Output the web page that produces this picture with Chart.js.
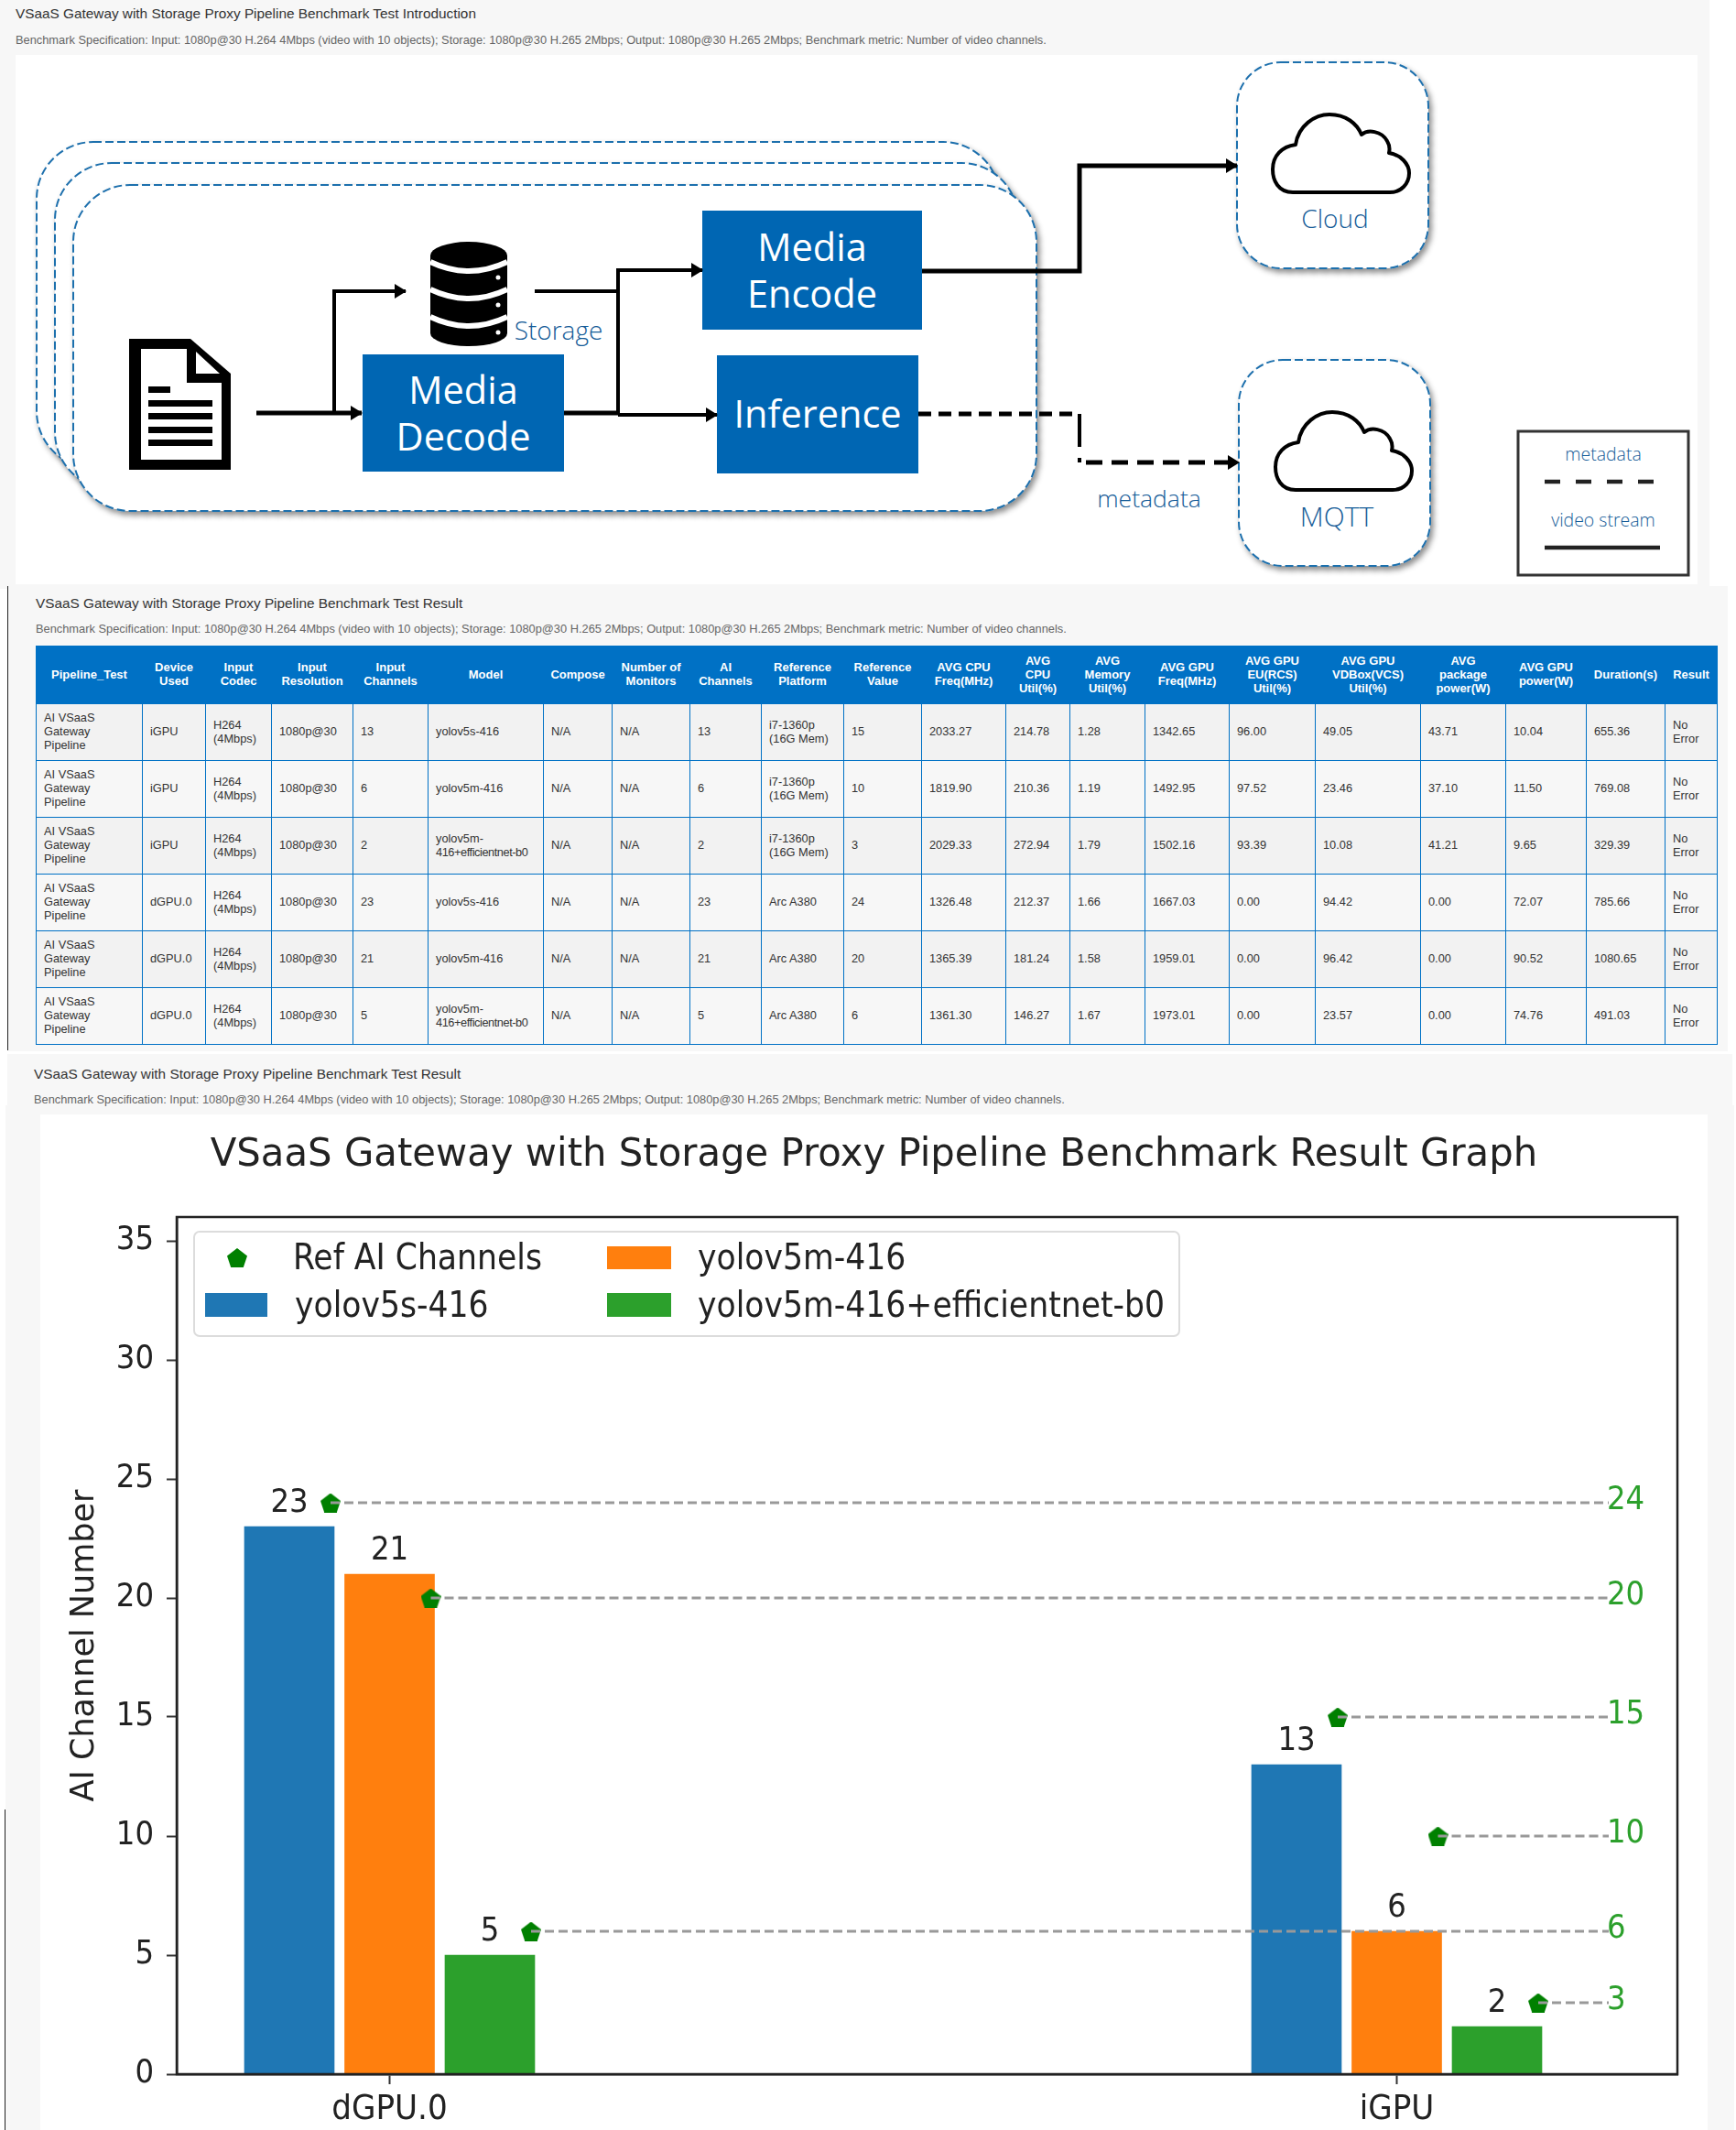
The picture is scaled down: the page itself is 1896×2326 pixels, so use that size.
<!DOCTYPE html>
<html><head><meta charset="utf-8">
<script src="https://cdn.jsdelivr.net/npm/chart.js@4/dist/chart.umd.min.js"></script>
<style>
html,body{margin:0;padding:0;background:#fff;}
body{width:1896px;height:2326px;position:relative;overflow:hidden;font-family:"Liberation Sans",Arial,sans-serif;}
.p{position:absolute;background:#f7f7f7;}
.h{position:absolute;font-size:15.35px;color:#333;white-space:nowrap;line-height:18px;}
.s{position:absolute;font-size:12.83px;color:#666;white-space:nowrap;line-height:16px;}
#tbl{position:absolute;left:39px;top:705px;width:1837px;border-collapse:collapse;table-layout:fixed;font-size:12.8px;line-height:15px;color:#333;}
#tbl th{background:#0071c5;color:#fff;font-weight:bold;font-size:13px;height:63px;padding:0 2px 2px;text-align:center;border:1px solid #0071c5;box-sizing:border-box;}
#tbl td{height:62px;padding:0 0 2px 8px;border:1px solid #0071c5;box-sizing:border-box;text-align:left;}
#tbl td:first-child{padding-right:30px;}
#tbl tr:nth-child(odd) td{background:#f2f2f2;}
#tbl tr:nth-child(even) td{background:#f7f7f7;}
svg text{font-family:"Open Sans",sans-serif;}
</style></head><body>
<div class="p" style="left:0;top:0;width:1867px;height:643px"></div>
<div class="p" style="left:9px;top:640px;width:1878px;height:508px"></div>
<div style="position:absolute;left:8px;top:640px;width:1px;height:507px;background:#222"></div>
<div class="p" style="left:8px;top:1151px;width:1884px;height:60px"></div>
<div class="p" style="left:6px;top:1207px;width:1888px;height:1119px"></div>
<div style="position:absolute;left:5px;top:1976px;width:1px;height:350px;background:#222"></div>

<div class="h" style="left:17px;top:6px">VSaaS Gateway with Storage Proxy Pipeline Benchmark Test Introduction</div>
<div class="s" style="left:17px;top:36px">Benchmark Specification: Input: 1080p@30 H.264 4Mbps (video with 10 objects); Storage: 1080p@30 H.265 2Mbps; Output: 1080p@30 H.265 2Mbps; Benchmark metric: Number of video channels.</div>

<svg style="position:absolute;left:0;top:0" width="1896" height="640" viewBox="0 0 1896 640">
<defs>
<filter id="sh" x="-5%" y="-5%" width="112%" height="112%"><feDropShadow dx="3" dy="4" stdDeviation="3" flood-color="#000" flood-opacity=".45"/></filter>
<marker id="ar" markerUnits="userSpaceOnUse" markerWidth="14" markerHeight="16" refX="13" refY="8" orient="auto"><path d="M1,0 L14,8 L1,16 Z" fill="#000"/></marker>
<path id="cloud" d="M22,85 C6,85 0,72 0,60 C0,45 10,35 25,33 C28,12 46,0 62,0 C80,0 92,10 97,22 C104,16 119,18 125,29 C128,34 128,38 127,42 C140,44 149,54 149,64 C149,76 140,85 128,85 Z" fill="#fff" stroke="#000" stroke-width="4" stroke-linejoin="round"/>
</defs>
<rect x="17" y="60" width="1837" height="578" fill="#fff"/>
<g fill="#fff" stroke="#1f70ad" stroke-width="2" stroke-dasharray="9 4">
<rect x="40" y="155" width="1052" height="356" rx="62" filter="url(#sh)"/>
<rect x="60" y="178" width="1052" height="356" rx="62" filter="url(#sh)"/>
<rect x="80" y="202" width="1052" height="356" rx="62" filter="url(#sh)"/>
<rect x="1351" y="68" width="209" height="225" rx="48" filter="url(#sh)"/>
<rect x="1353" y="393" width="209" height="225" rx="48" filter="url(#sh)"/>
</g>
<use href="#cloud" x="1390" y="125"/><use href="#cloud" x="1393" y="450"/>

<g fill="#0066b3">
<rect x="767" y="230" width="240" height="130"/>
<rect x="396" y="387" width="220" height="128"/>
<rect x="783" y="388" width="220" height="129"/>
</g>
<g fill="#fff" font-size="41.5" text-anchor="middle">
<text x="887" y="285">Media</text><text x="887" y="336">Encode</text>
<text x="506" y="441">Media</text><text x="506" y="492">Decode</text>
<text x="893" y="467">Inference</text>
</g>
<g fill="#155c98" font-weight="300" text-anchor="middle">
<text x="1458" y="249" font-size="28">Cloud</text>
<text x="1460" y="575" font-size="30">MQTT</text>
<text x="1255" y="554" font-size="26.5">metadata</text>
<text x="610" y="371" font-size="28">Storage</text>
</g>

<!-- arrows -->
<g fill="none" stroke="#000" stroke-width="4">
<path d="M280,451 H395" stroke-width="5" marker-end="url(#ar)"/>
<path d="M365,451 V318 H443" marker-end="url(#ar)"/>
<path d="M584,318 H675"/>
<path d="M675,453 V295 H767" marker-end="url(#ar)"/>
<path d="M616,451 H675" stroke-width="5"/>
<path d="M675,453 H783" marker-end="url(#ar)"/>
<path d="M1007,296 H1179 V181 H1351" stroke-width="5" marker-end="url(#ar)"/>
<path d="M1003,452 H1179" stroke-width="5" stroke-dasharray="14 8"/>
<path d="M1179,452 V505" stroke-width="4" stroke-dasharray="36 12"/>
<path d="M1186,505 H1353" stroke-width="5" stroke-dasharray="18 10" marker-end="url(#ar)"/>
</g>

<!-- document icon -->
<path d="M141,370 H208 L252,408 V513 H141 Z" fill="#000"/>
<path d="M154,381 H204 V418 H242 V502 H154 Z" fill="#fff"/>
<path d="M214,384 L240,408 H214 Z" fill="#fff"/>
<g fill="#000">
<rect x="162" y="422" width="24" height="7"/>
<rect x="162" y="437" width="70" height="7"/>
<rect x="162" y="451" width="70" height="7"/>
<rect x="162" y="466" width="70" height="7"/>
<rect x="162" y="480" width="70" height="7"/>
</g>

<!-- database icon -->
<path d="M470,279 A42,15 0 0 1 554,279 V364 A42,14 0 0 1 470,364 Z" fill="#000"/>
<g fill="none" stroke="#fff" stroke-width="6">
<path d="M470,286 Q512,306 554,286"/>
<path d="M470,316 Q512,336 554,316"/>
<path d="M470,346 Q512,366 554,346"/>
</g>
<g fill="#fff"><circle cx="544" cy="303" r="2.5"/><circle cx="544" cy="333" r="2.5"/><circle cx="544" cy="363" r="2.5"/></g>

<!-- key -->
<rect x="1658" y="471" width="186" height="157" fill="#fff" stroke="#333" stroke-width="3"/>
<g fill="#155c98" font-size="19.5" font-weight="300" text-anchor="middle">
<text x="1751" y="503">metadata</text><text x="1751" y="575">video stream</text>
</g>
<path d="M1687,526 H1808" stroke="#222" stroke-width="4.5" stroke-dasharray="17 17"/>
<path d="M1687,598 H1813" stroke="#222" stroke-width="4.5"/>
</svg>

<div class="h" style="left:39px;top:650px">VSaaS Gateway with Storage Proxy Pipeline Benchmark Test Result</div>
<div class="s" style="left:39px;top:679px">Benchmark Specification: Input: 1080p@30 H.264 4Mbps (video with 10 objects); Storage: 1080p@30 H.265 2Mbps; Output: 1080p@30 H.265 2Mbps; Benchmark metric: Number of video channels.</div>
<table id="tbl"><colgroup id="cols"></colgroup><thead><tr id="thead"></tr></thead><tbody id="tbody"></tbody></table>

<div class="h" style="left:37px;top:1164px">VSaaS Gateway with Storage Proxy Pipeline Benchmark Test Result</div>
<div class="s" style="left:37px;top:1193px;height:24px;overflow:hidden">Benchmark Specification: Input: 1080p@30 H.264 4Mbps (video with 10 objects); Storage: 1080p@30 H.265 2Mbps; Output: 1080p@30 H.265 2Mbps; Benchmark metric: Number of video channels.</div>

<div style="position:absolute;left:44px;top:1217px;width:1821px;height:1109px;background:#fff">
<canvas id="c" width="1821" height="1109"></canvas></div>

<script>
// ---------- table ----------
const tableHeaders = ["Pipeline_Test","Device Used","Input Codec","Input Resolution","Input Channels","Model","Compose","Number of Monitors","AI Channels","Reference Platform","Reference Value","AVG CPU Freq(MHz)","AVG<br>CPU<br>Util(%)","AVG Memory Util(%)","AVG GPU Freq(MHz)","AVG GPU EU(RCS) Util(%)","AVG GPU VDBox(VCS) Util(%)","AVG<br>package<br>power(W)","AVG GPU power(W)","Duration(s)","Result"];
const tableColumnWidths = [116,69,72,89,82,126,75,85,78,90,85,92,70,82,92,94,115,93,88,86,57];
const row1 = ["AI VSaaS Gateway Pipeline","iGPU","H264 (4Mbps)","1080p@30","13","yolov5s-416","N/A","N/A","13","i7-1360p (16G Mem)","15","2033.27","214.78","1.28","1342.65","96.00","49.05","43.71","10.04","655.36","No Error"];
const row2 = ["AI VSaaS Gateway Pipeline","iGPU","H264 (4Mbps)","1080p@30","6","yolov5m-416","N/A","N/A","6","i7-1360p (16G Mem)","10","1819.90","210.36","1.19","1492.95","97.52","23.46","37.10","11.50","769.08","No Error"];
const row3 = ["AI VSaaS Gateway Pipeline","iGPU","H264 (4Mbps)","1080p@30","2","yolov5m-416+efficientnet-b0","N/A","N/A","2","i7-1360p (16G Mem)","3","2029.33","272.94","1.79","1502.16","93.39","10.08","41.21","9.65","329.39","No Error"];
const row4 = ["AI VSaaS Gateway Pipeline","dGPU.0","H264 (4Mbps)","1080p@30","23","yolov5s-416","N/A","N/A","23","Arc A380","24","1326.48","212.37","1.66","1667.03","0.00","94.42","0.00","72.07","785.66","No Error"];
const row5 = ["AI VSaaS Gateway Pipeline","dGPU.0","H264 (4Mbps)","1080p@30","21","yolov5m-416","N/A","N/A","21","Arc A380","20","1365.39","181.24","1.58","1959.01","0.00","96.42","0.00","90.52","1080.65","No Error"];
const row6 = ["AI VSaaS Gateway Pipeline","dGPU.0","H264 (4Mbps)","1080p@30","5","yolov5m-416+efficientnet-b0","N/A","N/A","5","Arc A380","6","1361.30","146.27","1.67","1973.01","0.00","23.57","0.00","74.76","491.03","No Error"];
document.getElementById('cols').innerHTML = tableColumnWidths.map(w=>`<col style="width:${w}px">`).join('');
document.getElementById('thead').innerHTML = tableHeaders.map(h=>`<th>${h}</th>`).join('');
document.getElementById('tbody').innerHTML = [row1,row2,row3,row4,row5,row6].map(r=>'<tr>'+r.map(c=>`<td>${c.replace('yolov5m-416+efficientnet-b0','yolov5m-<br><span style="letter-spacing:-.45px;white-space:nowrap">416+efficientnet-b0</span>')}</td>`).join('')+'</tr>').join('');

// ---------- chart data ----------
const categories = ["dGPU.0","iGPU"];
const seriesNames = ["yolov5s-416","yolov5m-416","yolov5m-416+efficientnet-b0"];
const yolov5s = [23,13];
const yolov5m = [21,6];
const efficientnet = [5,2];
const refDgpu = [24,20,6];
const refIgpu = [15,10,3];
const refName = "Ref AI Channels";
const yTicks = [0,5,10,15,20,25,30,35];
const yMax = 36;

const FONT = "'DejaVu Sans Condensed','DejaVu Sans',sans-serif";
const BAR_COLORS = ['#1f77b4','#ff7f0e','#2ca02c'];
const REF_GREEN = '#2ca02c';
const MARKER_GREEN = '#008000';
const PX_PER_X = 1100;              // plot pixels per category step
const barStep = 109.5/PX_PER_X;     // centre distance of neighbouring bars
const markerShift = 45/PX_PER_X;    // marker sits near the right edge of its bar
const refEndX = (1757-425.5)/PX_PER_X;

// pentagon marker
function pentagon(w,h,color){
  const c=document.createElement('canvas');c.width=w;c.height=h;
  const g=c.getContext('2d');g.fillStyle=color;g.beginPath();
  [[.5,0],[1,.4],[.81,1],[.19,1],[0,.4]].forEach((p,i)=>{i?g.lineTo(p[0]*w,p[1]*h):g.moveTo(p[0]*w,p[1]*h);});
  g.closePath();g.fill();return c;
}
const penta = pentagon(22,21,MARKER_GREEN);

const refPoints = [];
[refDgpu,refIgpu].forEach((arr,cat)=>arr.forEach((v,s)=>refPoints.push({x:cat+(s-1)*barStep+markerShift,y:v})));

const datasets = [yolov5s,yolov5m,efficientnet].map((vals,i)=>({
  type:'bar',label:seriesNames[i],order:3,
  data:vals.map((v,j)=>({x:j,y:v})),
  backgroundColor:BAR_COLORS[i],
  barThickness:109.5,maxBarThickness:98,grouped:true
}));
datasets.push({type:'scatter',label:refName,order:2,data:refPoints,pointStyle:penta,pointRadius:11,showLine:false,backgroundColor:MARKER_GREEN});
refPoints.forEach(p=>datasets.push({type:'line',label:'ref-'+p.y,order:1,
  data:[{x:p.x,y:p.y},{x:refEndX,y:p.y}],
  borderColor:'#999',borderWidth:3,borderDash:[10,5],pointRadius:0,fill:false,tension:0,isRefLine:true}));

const overlay = {
  id:'overlay',
  afterDatasetsDraw(chart){
    const {ctx,chartArea:a,scales:{x,y}} = chart;
    ctx.save();
    // frame
    ctx.strokeStyle='#222';ctx.lineWidth=2.5;
    ctx.strokeRect(a.left,a.top,a.right-a.left,a.bottom-a.top);
    // value labels above bars
    ctx.font="36px "+FONT;ctx.fillStyle='#222';ctx.textAlign='center';ctx.textBaseline='alphabetic';
    chart.data.datasets.forEach((d,di)=>{
      if(d.type!=='bar')return;
      chart.getDatasetMeta(di).data.forEach((el,i)=>ctx.fillText(String(d.data[i].y),el.x,el.y-16));
    });
    // reference labels at the line ends
    ctx.font="36px "+FONT;ctx.fillStyle=REF_GREEN;ctx.textAlign='left';ctx.textBaseline='middle';
    refPoints.forEach(p=>ctx.fillText(String(p.y),x.getPixelForValue(refEndX)-2,y.getPixelForValue(p.y)-2));
    // legend
    const L=44, T=1217;
    ctx.fillStyle='#fff';ctx.strokeStyle='#dcdcdc';ctx.lineWidth=2;
    ctx.beginPath();ctx.roundRect(212-L,1345-T,1076,114,6);ctx.fill();ctx.stroke();
    ctx.drawImage(penta,248-L,1363-T);
    ctx.fillStyle=BAR_COLORS[0];ctx.fillRect(224-L,1412-T,68,26);
    ctx.fillStyle=BAR_COLORS[1];ctx.fillRect(663-L,1361-T,70,25);
    ctx.fillStyle=BAR_COLORS[2];ctx.fillRect(663-L,1412-T,70,26);
    ctx.fillStyle='#222';ctx.font="38.5px "+FONT;ctx.textAlign='left';ctx.textBaseline='middle';
    ctx.fillText(refName,320-L,1376-T);
    ctx.fillText(seriesNames[0],322-L,1428-T);
    ctx.fillText(seriesNames[1],762-L,1376-T);
    ctx.fillText(seriesNames[2],762-L,1428-T);
    ctx.restore();
  }
};

new Chart(document.getElementById('c'),{
  type:'line',
  data:{datasets},
  plugins:[overlay],
  options:{
    responsive:false,animation:false,
    layout:{padding:{left:33,right:33,top:0,bottom:0}},
    plugins:{
      legend:{display:false},tooltip:{enabled:false},
      title:{display:true,text:"VSaaS Gateway with Storage Proxy Pipeline Benchmark Result Graph",color:'#222',
        font:{family:"'DejaVu Sans',sans-serif",size:41.8,weight:'normal',lineHeight:1.2},padding:{top:20,bottom:41.84}}
    },
    scales:{
      x:{type:'linear',offset:false,min:-232.5/PX_PER_X,max:1+306.5/PX_PER_X,
        afterBuildTicks(s){s.ticks=categories.map((_,i)=>({value:i}));},
        afterFit(s){s.height=61;},
        ticks:{callback:v=>categories[v],color:'#222',font:{family:FONT,size:38},padding:5,maxRotation:0,autoSkip:false},
        grid:{display:true,offset:false,drawOnChartArea:false,tickLength:11,tickColor:'#333',tickWidth:2},
        border:{color:'#222',width:2.5}},
      y:{type:'linear',min:0,max:yMax,
        afterBuildTicks(s){s.ticks=yTicks.map(v=>({value:v}));},
        afterFit(s){s.width=116;},
        ticks:{color:'#222',font:{family:FONT,size:36},padding:14},
        grid:{display:true,drawOnChartArea:false,tickLength:11,tickColor:'#333',tickWidth:2},
        border:{color:'#222',width:2.5},
        title:{display:true,text:"AI Channel Number",color:'#222',font:{family:"'DejaVu Sans',sans-serif",size:35,weight:'normal'},padding:{top:-5,bottom:0}}}
    }
  }
});
</script>
</body></html>
